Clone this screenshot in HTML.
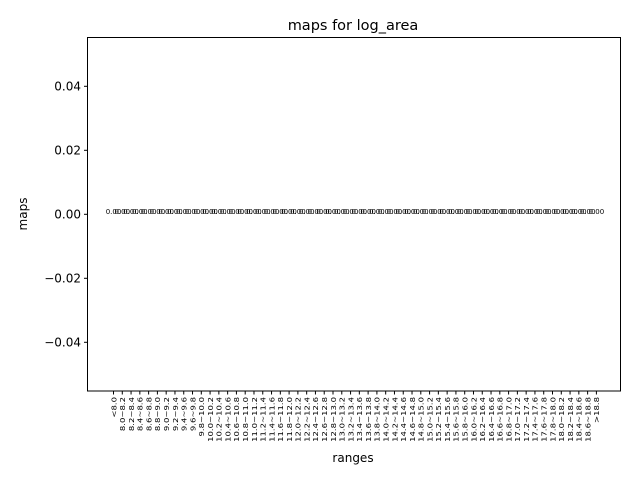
<!DOCTYPE html>
<html><head><meta charset="utf-8"><style>
body{margin:0;background:#fff;}
svg{display:block;font-family:"DejaVu Sans","Liberation Sans",sans-serif;}
</style></head><body>
<svg id="chart" width="640" height="480">
<text x="353" y="30" font-size="14.5" text-anchor="middle">maps for log_area</text>
<text x="353" y="462" font-size="12" text-anchor="middle">ranges</text>
<text transform="translate(27,214) rotate(-90)" font-size="12" text-anchor="middle">maps</text>
<g id="yticks"></g><g id="xticks"></g><g id="bars"></g>
<rect x="87.5" y="37.5" width="533" height="353.5" fill="none" stroke="#000" stroke-width="1"/>
</svg>
<script>
const categories = ["<8.0"];
for (let i = 0; i < 54; i++) categories.push((8 + i*0.2).toFixed(1) + "~" + (8.2 + i*0.2).toFixed(1));
categories.push(">18.8");
const values = new Array(56).fill(0);
const yTicks = [0.04, 0.02, 0.00, -0.02, -0.04];
const yTickLabels = ["0.04", "0.02", "0.00", "\u22120.02", "\u22120.04"];
const NS = "http://www.w3.org/2000/svg";
function y(v){ return 214.3 - v*3200; }
function x(i){ return 113.5 + i*8.78; }
function mk(tag, attrs, parent){ const e=document.createElementNS(NS,tag); for(const k in attrs) e.setAttribute(k,attrs[k]); parent.appendChild(e); return e; }
const yt=document.getElementById('yticks');
yTicks.forEach((v,i)=>{
  const l=mk('line',{x1:84,x2:87.5,y1:y(v),y2:y(v),stroke:'#000'},yt);
  
  
  const t=mk('text',{x:81,y:y(v)+4,'font-size':12,'text-anchor':'end'},yt);
  t.textContent=yTickLabels[i];
  
  
});
const xt=document.getElementById('xticks'), bg=document.getElementById('bars');
categories.forEach((c,i)=>{
  const px=x(i);
  const l=mk('line',{x1:px,x2:px,y1:391,y2:394.5,stroke:'#000'},xt);
  
  
  const t=mk('text',{transform:`translate(${px+2.8},397) rotate(-90) scale(1,0.8)`,'font-size':8.5,'text-anchor':'end'},xt);
  t.textContent=c;
  
  
  const h=Math.abs(y(values[i])-y(0));
  const b=mk('rect',{x:px-3.5,y:Math.min(y(values[i]),y(0)),width:7,height:h,fill:'#1f77b4'},bg);
  
  
  const v=mk('text',{x:px,y:y(values[i])-0.5,'font-size':7,'text-anchor':'middle'},bg);
  v.textContent=values[i].toFixed(2);
  
  
});
</script>
</body></html>
